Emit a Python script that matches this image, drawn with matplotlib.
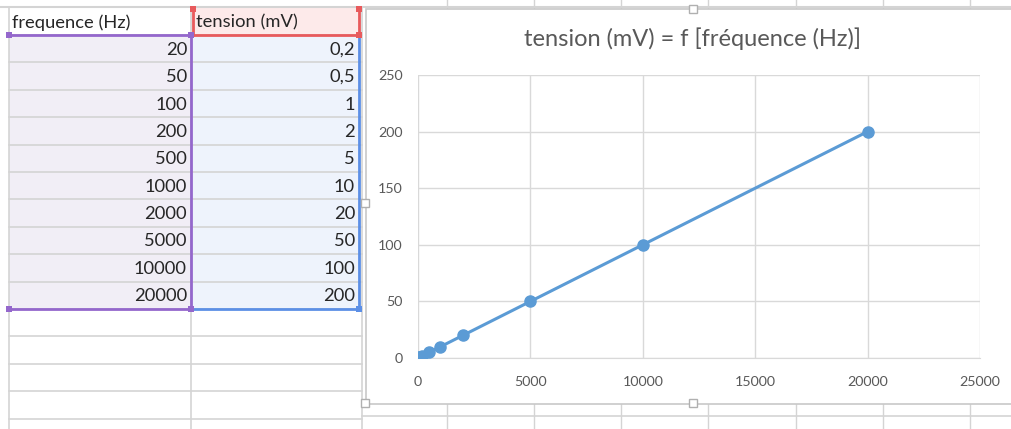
import matplotlib
matplotlib.use("Agg")
import matplotlib.pyplot as plt
from matplotlib.patches import Rectangle

# Data
frequence = [20, 50, 100, 200, 500, 1000, 2000, 5000, 10000, 20000]
tension = [0.2, 0.5, 1, 2, 5, 10, 20, 50, 100, 200]
col_headers = ["frequence (Hz)", "tension (mV)"]
chart_title = "tension (mV) = f [fréquence (Hz)]"
x_ticks = [0, 5000, 10000, 15000, 20000, 25000]
y_ticks = [0, 50, 100, 150, 200, 250]

W, H = 1012, 429
plt.rcParams['font.family'] = ['Lato', 'DejaVu Sans']
fig = plt.figure(figsize=(W / 100, H / 100), dpi=100)

# spreadsheet background, pixel coords
bg = fig.add_axes([0, 0, 1, 1])
bg.set_xlim(0, W)
bg.set_ylim(H, 0)
bg.axis('off')

grid_c = '#d4d4d4'
purple = '#9467cc'
red = '#e85a5c'
blue = '#5c8fe6'
txt_c = '#262626'
cell_fs = 13.2

col_x = [9, 191.5, 362]
top = 8
head_b = 35
row_h = 27.4
n_rows = len(frequence)
sel_b = head_b + n_rows * row_h

# cell fills
bg.add_patch(Rectangle((col_x[0], head_b), col_x[1] - col_x[0], n_rows * row_h, color='#f1eef6', lw=0))
bg.add_patch(Rectangle((col_x[1], head_b), col_x[2] - 3 - col_x[1], n_rows * row_h, color='#eef3fc', lw=0))
bg.add_patch(Rectangle((col_x[1], top), col_x[2] - 3 - col_x[1], head_b - top, color='#fdeaea', lw=0))

# grid lines
bg.plot([0, W], [top - 1, top - 1], color=grid_c, lw=1.5)
y = head_b
while y < H:
    bg.plot([col_x[0], col_x[2]], [y, y], color=grid_c, lw=1.2)
    y += row_h
for cx in col_x:
    bg.plot([cx, cx], [top, H], color=grid_c, lw=1.2)
for cx in [447, 534, 621, 708, 796, 883, 970]:
    bg.plot([cx, cx], [0, top], color=grid_c, lw=1)
    bg.plot([cx, cx], [404, H], color=grid_c, lw=1)
bg.plot([362, W], [416, 416], color=grid_c, lw=1.2)

# selection borders
bg.plot([col_x[0], col_x[1]], [head_b, head_b], color=purple, lw=2)
bg.plot([col_x[1], col_x[1]], [head_b, sel_b], color=purple, lw=2)
bg.plot([col_x[0], col_x[1]], [sel_b, sel_b], color=purple, lw=2)
bg.plot([col_x[1] + 1.5, col_x[1] + 1.5], [top + 2, head_b], color=red, lw=2)
bg.plot([359, 359], [top + 2, head_b], color=red, lw=2)
bg.plot([col_x[1] + 1.5, 359], [head_b, head_b], color=red, lw=2)
bg.plot([359, 359], [head_b + 2, sel_b], color=blue, lw=2)
bg.plot([col_x[1] + 3, 359], [sel_b, sel_b], color=blue, lw=2)
for (hx, hy, hc) in [(col_x[0], head_b, purple), (col_x[1], head_b, purple),
                     (col_x[0], sel_b, purple), (col_x[1], sel_b, purple),
                     (359, head_b, red), (359, top + 1, red), (col_x[1] + 1.5, top + 1, red),
                     (359, sel_b, blue)]:
    bg.add_patch(Rectangle((hx - 3, hy - 3), 6, 6, color=hc, lw=0, zorder=5))

# cell text
bg.text(12, (top + head_b) / 2 + 1, col_headers[0], ha='left', va='center', fontsize=cell_fs, color=txt_c)
bg.text(196, (top + head_b) / 2 + 1, col_headers[1], ha='left', va='center', fontsize=cell_fs, color=txt_c)
for i, (f, t) in enumerate(zip(frequence, tension)):
    cy = head_b + (i + 0.5) * row_h + 1
    bg.text(187, cy, str(f), ha='right', va='center', fontsize=cell_fs, color=txt_c)
    ts = ('%g' % t).replace('.', ',')
    bg.text(355, cy, ts, ha='right', va='center', fontsize=cell_fs, color=txt_c)

# chart area
bg.add_patch(Rectangle((366, 9), W, 395, facecolor='white', edgecolor='#c8c8c8', lw=1.2, zorder=6))
for (hx, hy) in [(365, 203), (365, 403), (693, 403), (693, 9)]:
    bg.add_patch(Rectangle((hx - 4, hy - 4), 8, 8, facecolor='white', edgecolor='#b0b0b0', lw=1, zorder=7))
bg.text(693, 39, chart_title, ha='center', va='center', fontsize=17, color='#595959', zorder=7)

# plot area
pl, pr, pt, pb = 418, 980, 75, 358
ax = fig.add_axes([pl / W, (H - pb) / H, (pr - pl) / W, (pb - pt) / H])
ax.set_zorder(10)
ax.patch.set_alpha(0)
ax.plot(frequence, tension, color='#5b9bd5', lw=2.2, marker='o', ms=8, zorder=3)
ax.set_xlim(0, 25000)
ax.set_ylim(0, 250)
ax.set_xticks(x_ticks)
ax.set_yticks(y_ticks)
ax.grid(True, color='#d9d9d9', lw=1)
for s in ax.spines.values():
    s.set_visible(False)
ax.spines['bottom'].set_visible(True)
ax.spines['bottom'].set_color('#d9d9d9')
ax.tick_params(length=0, labelsize=10.3, labelcolor='#595959')
ax.tick_params(axis='x', pad=13)
ax.tick_params(axis='y', pad=11)
ax.set_axisbelow(True)

fig.savefig("out.png", dpi=100)
